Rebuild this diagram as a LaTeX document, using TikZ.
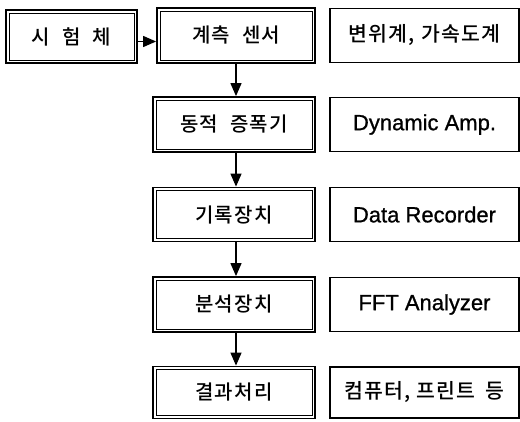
\documentclass[tikz,border=0pt]{standalone}
\usepackage{fontspec}
\setmainfont{Liberation Sans}
\newfontfamily\lat{Liberation Sans}[FakeBold=0.9]
\newfontfamily\kr{Noto Sans CJK KR Medium}[LetterSpace=6]
\usetikzlibrary{arrows.meta,calc}
\begin{document}
\begin{tikzpicture}[x=1pt,y=-1pt,
  dbox/.style={draw, line width=1.8pt, inner sep=0pt, font=\kr\fontsize{20}{24}\selectfont},
  sbox/.style={draw, line width=1.2pt, inner sep=0pt, minimum width=189pt, minimum height=54pt},
  kfont/.style={font=\kr\fontsize{20.5}{24}\selectfont},
  efont/.style={font=\lat\fontsize{22}{26}\selectfont},
  arr/.style={line width=1.2pt, -{Triangle[length=13pt,width=11pt]}}]
\useasboundingbox (0,0) rectangle (520,421);
% left column
\node[dbox, minimum width=131pt, minimum height=53pt] (obj) at (71.5,36.5) {시\hspace{0.6em}험\hspace{0.6em}체};
\node[dbox, minimum width=158pt, minimum height=55pt] (sen) at (236,35.5) {계측\hspace{0.6em}센서};
\node[dbox, minimum width=162pt, minimum height=55pt] (amp) at (234,124.5) {동적\hspace{0.6em}증폭기};
\node[dbox, minimum width=162pt, minimum height=54pt] (rec) at (234,214.5) {기록장치};
\node[dbox, minimum width=162pt, minimum height=55pt] (ana) at (234,304.5) {분석장치};
\node[dbox, minimum width=162pt, minimum height=52pt] (res) at (234,392.5) {결과처리};
% inner frames
\foreach \n in {obj,sen,amp,rec,ana,res}
  \draw[line width=0.8pt] ($(\n.south west)+(4pt,4pt)$) rectangle ($(\n.north east)+(-4pt,-4pt)$);
% right column
\node[sbox, kfont] (r1) at (424.5,35.5) {변위계,\hspace{0.3em}가속도계};
\node[sbox, efont] (r2) at (424.5,124.5) {Dynamic Amp.};
\node[sbox, efont] (r3) at (424.5,214.5) {Data Recorder};
\node[sbox, efont] (r4) at (424.5,304.5) {FFT Analyzer};
\node[sbox, kfont, minimum height=51pt] (r5) at (424.5,392.5) {컴퓨터,\hspace{0.3em}프린트\hspace{0.5em}등};
% connectors
\coordinate (h) at ($(obj.east)+(0,5)$);
\draw[arr] (h) -- (h -| sen.west);
\coordinate (col) at (236,0);
\draw[arr] (sen.south -| col) -- (amp.north -| col);
\draw[arr] (amp.south -| col) -- (rec.north -| col);
\draw[arr] (rec.south -| col) -- (ana.north -| col);
\draw[arr] (ana.south -| col) -- (res.north -| col);
\end{tikzpicture}
\end{document}
